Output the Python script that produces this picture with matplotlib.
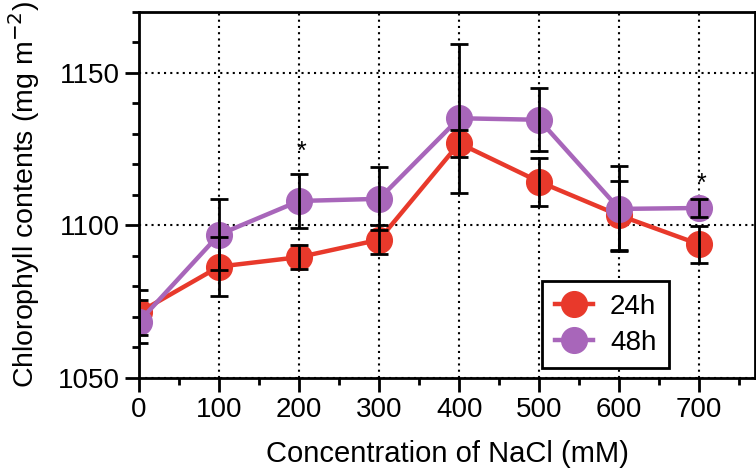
import numpy as np
import matplotlib.pyplot as plt
from matplotlib.ticker import MultipleLocator

plt.rcParams['font.family'] = ['Liberation Sans', 'DejaVu Sans']

# NaCl concentration (mM)
conc = [0, 100, 200, 300, 400, 500, 600, 700]

# chlorophyll contents (mg m-2)
h24 = [1071.5, 1086.5, 1089.6, 1095.3, 1126.9, 1114.3, 1103.3, 1093.8]
h24_err = [7.4, 9.6, 4.0, 4.7, 4.4, 7.8, 11.2, 6.1]
h48 = [1068.5, 1097.0, 1108.0, 1108.7, 1135.1, 1134.6, 1105.4, 1105.7]
h48_err = [7.0, 11.7, 8.7, 10.3, 24.4, 10.3, 13.9, 3.0]

# significance marks
star_x = [200, 700]
star_y = [1124.0, 1113.5]

red = '#e8392b'
purple = '#a866ba'

fig = plt.figure(figsize=(7.56, 4.69), dpi=100)
ax = fig.add_axes([0.184, 0.194, 0.815, 0.781])

ax.plot(conc, h24, color=red, lw=3.2, marker='o', ms=18.5, label='24h', zorder=3)
ax.plot(conc, h48, color=purple, lw=3.2, marker='o', ms=18.5, label='48h', zorder=3)
ax.errorbar(conc, h24, yerr=h24_err, fmt='none', ecolor='black', elinewidth=2,
            capsize=6.5, capthick=2, zorder=4)
ax.errorbar(conc, h48, yerr=h48_err, fmt='none', ecolor='black', elinewidth=2,
            capsize=6.5, capthick=2, zorder=4)

for x, y in zip(star_x, star_y):
    ax.text(x + 3, y, '*', ha='center', va='center', fontsize=18)

ax.set_xlim(0, 770)
ax.set_ylim(1050, 1170)
ax.set_xticks(conc)
ax.set_yticks([1050, 1100, 1150])
ax.xaxis.set_minor_locator(MultipleLocator(50))
ax.yaxis.set_minor_locator(MultipleLocator(10))
ax.grid(True, which='major', color='black', linestyle=(0, (1, 2)), lw=1.5)
ax.set_axisbelow(True)

for s in ax.spines.values():
    s.set_linewidth(2)
ax.tick_params(which='major', length=10, width=2, labelsize=20, direction='out', pad=4)
ax.tick_params(which='minor', length=5, width=2, direction='out')

ax.set_xlabel('Concentration of NaCl (mM)', fontsize=21, labelpad=12)
ax.set_ylabel('Chlorophyll contents (mg m$^{-2}$)', fontsize=20.5, labelpad=11)

leg = ax.legend(loc='lower right', bbox_to_anchor=(0.86, 0.027), fontsize=20,
                frameon=True, fancybox=False, edgecolor='black', framealpha=1,
                handlelength=1.4, handletextpad=0.6, borderpad=0.45,
                labelspacing=0.35, borderaxespad=0)
leg.get_frame().set_linewidth(2)

fig.savefig('out.png', dpi=100)
